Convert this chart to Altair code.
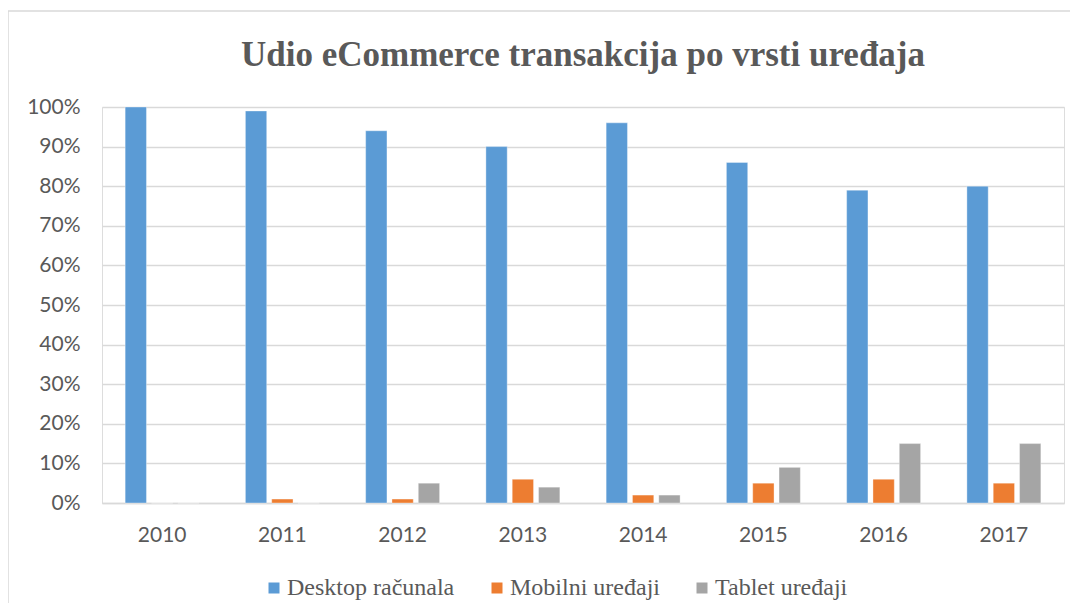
import altair as alt
import pandas as pd

years = ["2010", "2011", "2012", "2013", "2014", "2015", "2016", "2017"]
series = ["Desktop računala", "Mobilni uređaji", "Tablet uređaji"]
desktop = [100, 99, 94, 90, 96, 86, 79, 80]
mobile = [0, 1, 1, 6, 2, 5, 6, 5]
tablet = [0, 0, 5, 4, 2, 9, 15, 15]
colors = ["#5B9BD5", "#ED7D31", "#A5A5A5"]

rows = []
for name, vals in zip(series, [desktop, mobile, tablet]):
    for y, v in zip(years, vals):
        rows.append({"godina": y, "serija": name, "udio": v / 100.0})
df = pd.DataFrame(rows)

W, H = 962, 396

bars = alt.Chart(df).mark_bar(stroke="white", strokeWidth=0.6, strokeOpacity=0.6).encode(
    x=alt.X("godina:N", sort=years, title=None,
            scale=alt.Scale(paddingInner=0.385, paddingOuter=0.1925),
            axis=alt.Axis(labelAngle=0, labelFont="Lato", labelFontSize=21,
                          labelColor="#595959", labelPadding=21, ticks=False,
                          domainColor="#D9D9D9", domainWidth=1.5, grid=False)),
    xOffset=alt.XOffset("serija:N", sort=series,
                        scale=alt.Scale(paddingInner=0.19, paddingOuter=0)),
    y=alt.Y("udio:Q", title=None,
            scale=alt.Scale(domain=[0, 1], nice=False),
            axis=alt.Axis(format=".0%", values=[i / 10 for i in range(11)],
                          labelFont="Lato", labelFontSize=21, labelColor="#595959",
                          labelPadding=22, ticks=False, domain=False,
                          gridColor="#D9D9D9", gridWidth=1.5)),
    color=alt.Color("serija:N", sort=series,
                    scale=alt.Scale(domain=series, range=colors),
                    legend=alt.Legend(title=None, orient="none", direction="horizontal",
                                      legendX=160, legendY=469,
                                      symbolType="square", symbolSize=121,
                                      symbolStrokeWidth=0, labelLimit=0,
                                      labelFont="Liberation Serif", labelFontSize=24,
                                      labelColor="#595959", labelOffset=1,
                                      columnPadding=30)),
)

border = alt.Chart(pd.DataFrame({"a": [0]})).mark_rect(
    fill=None, stroke="#D9D9D9", strokeWidth=1.5
).encode(x=alt.value(-94), x2=alt.value(W + 40), y=alt.value(-96), y2=alt.value(H + 140))

chart = alt.layer(border, bars).properties(
    width=W, height=H,
    title=alt.TitleParams("Udio eCommerce transakcija po vrsti uređaja",
                          font="Liberation Serif", fontSize=35, fontWeight="bold",
                          color="#595959", anchor="middle", frame="group",
                          baseline="bottom", offset=-98),
    autosize=alt.AutoSizeParams(type="none"),
    padding={"left": 94, "top": 99, "right": 6, "bottom": 100},
).configure_view(stroke=None).configure(background="white")

chart.save("out.html", embed_options={"renderer": "svg", "actions": False})
